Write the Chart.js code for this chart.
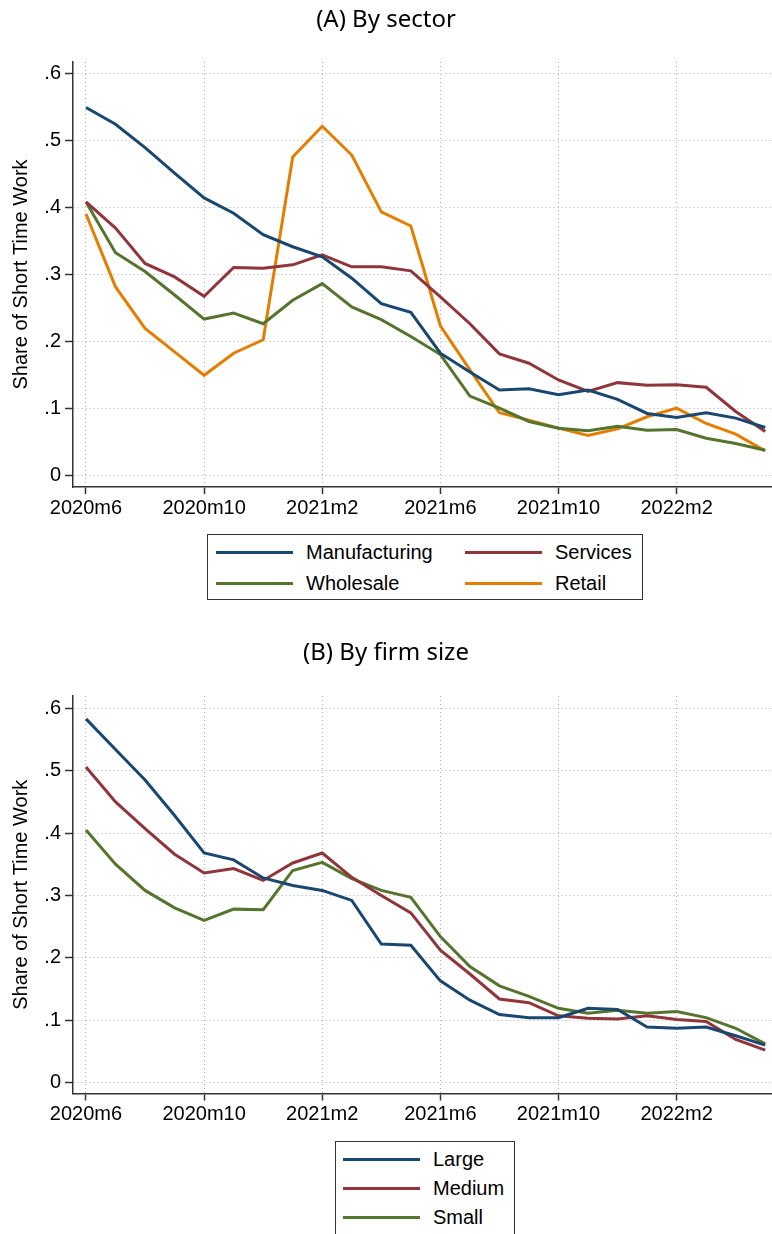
<!DOCTYPE html>
<html>
<head>
<meta charset="utf-8">
<title>Share of Short Time Work</title>
<script src="https://cdn.jsdelivr.net/npm/chart.js@4.4.1/dist/chart.umd.min.js"></script>
<style>
  html, body { margin: 0; padding: 0; background: #fff; }
  #page { position: relative; width: 772px; height: 1234px; overflow: hidden; }
  canvas { position: absolute; left: 0; }
  .legend {
    position: absolute; box-sizing: border-box; border: 1px solid #333; background: #fff;
    font-family: "Liberation Sans", Arial, sans-serif; font-size: 20px; color: #000;
  }
  .legend .item { display: flex; align-items: center; height: 29px; white-space: nowrap; }
  .legend .swatch { display: inline-block; width: 77px; height: 3px; margin-right: 13px; }
  #legendA { left: 207px; top: 534px; width: 436px; height: 66px; padding: 3px 0 0 8px;
             display: grid; grid-template-columns: 249px auto; }
  #legendB { left: 335px; top: 1141px; width: 180px; height: 110px; padding: 3px 0 0 7px; }
</style>
</head>
<body>
<div id="page">
  <canvas id="chartA" width="772" height="617" style="top:0"></canvas>
  <canvas id="chartB" width="772" height="617" style="top:617px"></canvas>
  <div class="legend" id="legendA"></div>
  <div class="legend" id="legendB"></div>
</div>

<script>
/* ===================== DATA ===================== */

const months = [
  "2020m6", "2020m7", "2020m8", "2020m9", "2020m10", "2020m11", "2020m12",
  "2021m1", "2021m2", "2021m3", "2021m4", "2021m5", "2021m6", "2021m7",
  "2021m8", "2021m9", "2021m10", "2021m11", "2021m12", "2022m1", "2022m2",
  "2022m3", "2022m4", "2022m5"
];
const xTickIndex = [0, 4, 8, 12, 16, 20];
const yTickValues = [0, 0.1, 0.2, 0.3, 0.4, 0.5, 0.6];
const yTickLabels = ["0", ".1", ".2", ".3", ".4", ".5", ".6"];

// (A) by sector
const manufacturing = [0.549, 0.524, 0.489, 0.451, 0.414, 0.391, 0.359, 0.341, 0.326, 0.294, 0.256, 0.243,
                       0.182, 0.154, 0.127, 0.129, 0.120, 0.127, 0.113, 0.092, 0.086, 0.093, 0.085, 0.071];
const services      = [0.408, 0.369, 0.316, 0.296, 0.267, 0.310, 0.309, 0.314, 0.329, 0.311, 0.311, 0.305,
                       0.266, 0.226, 0.181, 0.167, 0.142, 0.125, 0.138, 0.134, 0.135, 0.131, 0.095, 0.065];
const wholesale     = [0.408, 0.332, 0.304, 0.269, 0.233, 0.242, 0.226, 0.261, 0.286, 0.251, 0.232, 0.207,
                       0.180, 0.118, 0.100, 0.080, 0.070, 0.066, 0.073, 0.067, 0.068, 0.055, 0.047, 0.037];
const retail        = [0.390, 0.281, 0.219, 0.184, 0.149, 0.182, 0.202, 0.475, 0.521, 0.478, 0.393, 0.372,
                       0.223, 0.157, 0.093, 0.082, 0.070, 0.059, 0.069, 0.087, 0.100, 0.077, 0.061, 0.036];

// (B) by firm size
const large  = [0.583, 0.534, 0.485, 0.428, 0.368, 0.357, 0.328, 0.316, 0.308, 0.292, 0.222, 0.220,
                0.163, 0.132, 0.109, 0.104, 0.104, 0.119, 0.117, 0.089, 0.087, 0.089, 0.075, 0.060];
const medium = [0.506, 0.450, 0.407, 0.366, 0.336, 0.343, 0.324, 0.352, 0.368, 0.329, 0.300, 0.272,
                0.212, 0.174, 0.134, 0.128, 0.107, 0.103, 0.102, 0.107, 0.101, 0.098, 0.069, 0.052];
const small  = [0.405, 0.350, 0.308, 0.280, 0.260, 0.278, 0.277, 0.340, 0.353, 0.327, 0.308, 0.297,
                0.234, 0.186, 0.155, 0.138, 0.119, 0.111, 0.116, 0.111, 0.114, 0.104, 0.087, 0.062];

/* ===================== STYLE ===================== */

const NAVY = "#1a476f";
const MAROON = "#90353b";
const FOREST = "#55752f";
const ORANGE = "#e37e00";

Chart.defaults.font.family = '"Liberation Sans", Arial, sans-serif';
Chart.defaults.font.size = 20;
Chart.defaults.color = "#000";

function series(label, values, color) {
    return {
        label: label,
        data: values.map((v, i) => ({ x: i, y: v })),
        borderColor: color,
        backgroundColor: color,
        borderWidth: 3,
        pointRadius: 0,
        tension: 0,
        fill: false
    };
}

function panelOptions(titleText, yMin, yMax, titlePad, bottomPad) {
    return {
        responsive: false,
        animation: false,
        layout: { padding: { left: 0, right: 0, top: 0, bottom: bottomPad } },
        plugins: {
            legend: { display: false },
            tooltip: { enabled: false },
            title: {
                display: true,
                text: titleText,
                color: "#000",
                font: { family: '"Noto Sans", sans-serif', size: 24, weight: "normal", lineHeight: 1.2 },
                padding: titlePad
            }
        },
        scales: {
            x: {
                type: "linear",
                min: -0.44,
                max: 23.23,
                afterBuildTicks: s => { s.ticks = xTickIndex.map(v => ({ value: v })); },
                afterFit: s => { s.height = 40; },
                ticks: {
                    autoSkip: false,
                    maxRotation: 0,
                    padding: 2,
                    callback: v => months[v]
                },
                grid: {
                    color: "#aaaaaa",
                    lineWidth: 1,
                    tickLength: 7,
                    tickColor: "#333",
                    tickWidth: 1.5,
                    tickBorderDash: []
                },
                border: { color: "#333", width: 1.5, dash: [1, 3] }
            },
            y: {
                min: yMin,
                max: yMax,
                afterBuildTicks: s => { s.ticks = yTickValues.map(v => ({ value: v })); },
                afterFit: s => { s.width = 73; },
                ticks: {
                    padding: 4,
                    callback: (v, i) => yTickLabels[i]
                },
                title: {
                    display: true,
                    text: "Share of Short Time Work",
                    color: "#000",
                    font: { size: 20 },
                    padding: { top: 9, bottom: 0 }
                },
                grid: {
                    color: "#aaaaaa",
                    lineWidth: 1,
                    tickLength: 8,
                    tickColor: "#333",
                    tickWidth: 1.5,
                    tickBorderDash: []
                },
                border: { color: "#333", width: 1.5, dash: [1, 3] }
            }
        }
    };
}

// legend box in html, built from the chart's datasets
function buildLegend(chart, el) {
    chart.data.datasets.forEach(ds => {
        const item = document.createElement("div");
        item.className = "item";
        const swatch = document.createElement("span");
        swatch.className = "swatch";
        swatch.style.background = ds.borderColor;
        item.appendChild(swatch);
        item.appendChild(document.createTextNode(ds.label));
        el.appendChild(item);
    });
}

/* ===================== (A) BY SECTOR ===================== */

const chartA = new Chart(document.getElementById("chartA"), {
    type: "line",
    data: {
        datasets: [
            series("Manufacturing", manufacturing, NAVY),
            series("Services", services, MAROON),
            series("Wholesale", wholesale, FOREST),
            series("Retail", retail, ORANGE)
        ]
    },
    options: panelOptions("(A) By sector", -0.0179, 0.617, { top: 6, bottom: 27.2 }, 90)
});
buildLegend(chartA, document.getElementById("legendA"));

/* ===================== (B) BY FIRM SIZE ===================== */

const chartB = new Chart(document.getElementById("chartB"), {
    type: "line",
    data: {
        datasets: [
            series("Large", large, NAVY),
            series("Medium", medium, MAROON),
            series("Small", small, FOREST)
        ]
    },
    options: panelOptions("(B) By firm size", -0.0176, 0.6197, { top: 21.6, bottom: 28.6 }, 100.5)
});
buildLegend(chartB, document.getElementById("legendB"));
</script>
</body>
</html>
